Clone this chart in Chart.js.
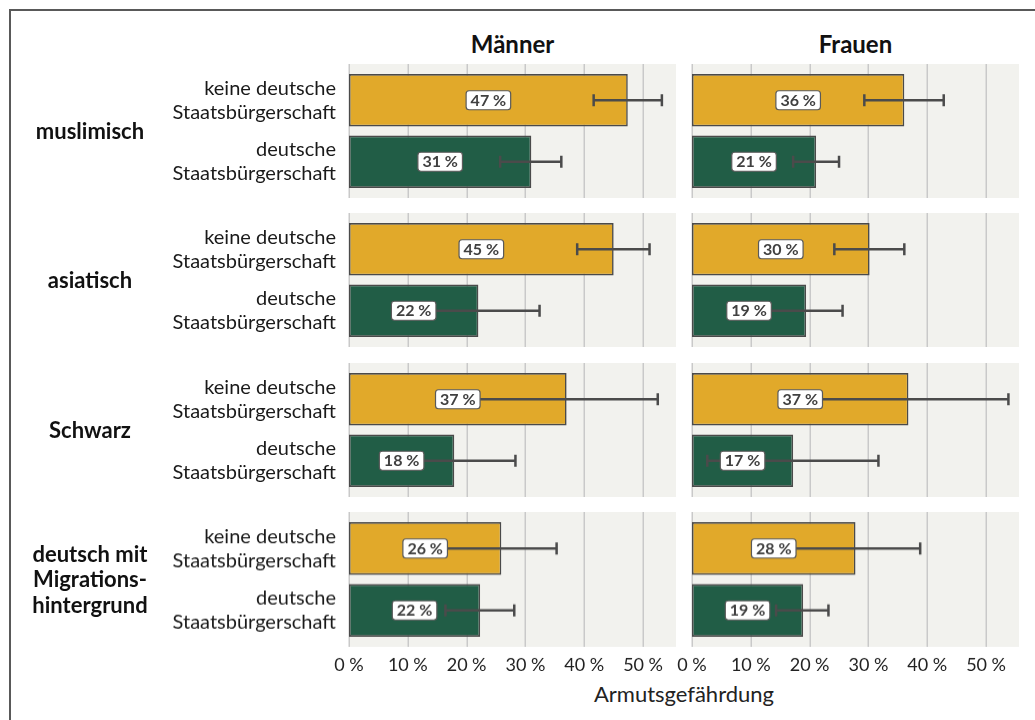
<!DOCTYPE html>
<html lang="de">
<head>
<meta charset="utf-8">
<script src="https://cdn.jsdelivr.net/npm/chart.js@4.4.1/dist/chart.umd.min.js"></script>
<style>
  html, body { margin:0; padding:0; background:#fff; width:1035px; height:720px; overflow:hidden; font-family:'Lato', sans-serif; }
  #frame { position:absolute; left:9px; top:9px; width:1060px; height:760px; border:2px solid #595959; box-sizing:border-box; }
  .box { position:absolute; }
  .head { position:absolute; top:29px; font-weight:bold; font-size:24px; color:#111; text-align:center; line-height:30px; }
  .group { position:absolute; left:15px; width:150px; display:flex; align-items:center; justify-content:center; text-align:center; font-weight:bold; font-size:22px; line-height:25.5px; color:#111; }
  #xtitle { position:absolute; left:349px; width:670px; top:680px; text-align:center; font-size:22px; line-height:28px; color:#222; }
</style>
</head>
<body>
<div id="frame"></div>
<div class="head" style="left:349px;width:327px;">Männer</div>
<div class="head" style="left:692px;width:327px;">Frauen</div>
<div id="xtitle">Armutsgefährdung</div>
<script>
// ---- data ----
const groups = [['muslimisch'], ['asiatisch'], ['Schwarz'], ['deutsch mit', 'Migrations-', 'hintergrund']];
const citizenshipLabels = [['keine deutsche', 'Staatsbürgerschaft'], ['deutsche', 'Staatsbürgerschaft']];
const xTicks = [0, 10, 20, 30, 40, 50];

const menNonCitizen      = [47.4, 45.0, 37.0, 25.9];
const menNonCitizenLow   = [41.6, 38.8, 21.5, 16.5];
const menNonCitizenHigh  = [53.2, 51.1, 52.5, 35.3];
const menCitizen         = [31.0, 22.0, 17.9, 22.3];
const menCitizenLow      = [25.7, 11.6, 7.5, 16.4];
const menCitizenHigh     = [36.1, 32.4, 28.3, 28.1];

const womenNonCitizen     = [36.1, 30.2, 36.8, 27.8];
const womenNonCitizenLow  = [29.3, 24.2, 19.8, 16.8];
const womenNonCitizenHigh = [42.8, 36.1, 53.8, 38.8];
const womenCitizen        = [21.1, 19.4, 17.2, 18.9];
const womenCitizenLow     = [17.2, 13.2, 2.6, 14.3];
const womenCitizenHigh    = [25.0, 25.6, 31.7, 23.2];

// ---- styling ----
const ORANGE = '#E1A92A';
const GREEN = '#215D46';
const BORDER = '#4a4a4a';
const PANEL_BG = '#F2F2EE';
const GRID = '#C9C9C9';
const ERR = '#4b4b4b';
const PAD = 5.5;
const ROW_TOPS = [64, 213, 363, 512];
const ROW_H = 134;
const X_MAX = 55.6;

Chart.defaults.font.family = 'Lato, sans-serif';
Chart.defaults.color = '#1a1a1a';

const panelPlugin = {
  id: 'panel',
  beforeDraw(chart) {
    const { ctx, chartArea: a, scales: { x } } = chart;
    ctx.save();
    ctx.fillStyle = PANEL_BG;
    ctx.fillRect(a.left, a.top - PAD, a.right - a.left, a.bottom - a.top + 2 * PAD);
    ctx.strokeStyle = GRID;
    ctx.lineWidth = 1.5;
    xTicks.forEach(v => {
      const px = Math.round(x.getPixelForValue(v)) + 0.25;
      ctx.beginPath();
      ctx.moveTo(px, a.top - PAD);
      ctx.lineTo(px, a.bottom + PAD);
      ctx.stroke();
    });
    ctx.restore();
  },
  afterDatasetsDraw(chart) {
    const { ctx, scales: { x } } = chart;
    const ds = chart.data.datasets[0];
    const meta = chart.getDatasetMeta(0);
    ctx.save();
    // error bars
    meta.data.forEach((bar, i) => {
      const y = bar.y;
      const xl = x.getPixelForValue(ds.low[i]);
      const xh = x.getPixelForValue(ds.high[i]);
      ctx.strokeStyle = ERR;
      ctx.lineWidth = 2.5;
      ctx.beginPath();
      ctx.moveTo(xl, y); ctx.lineTo(xh, y);
      ctx.stroke();
      ctx.beginPath();
      ctx.moveTo(xl, y - 6); ctx.lineTo(xl, y + 6);
      ctx.moveTo(xh, y - 6); ctx.lineTo(xh, y + 6);
      ctx.stroke();
    });
    // value labels
    ctx.font = 'bold 16px Lato, sans-serif';
    ctx.textAlign = 'center';
    ctx.textBaseline = 'middle';
    meta.data.forEach((bar, i) => {
      const v = ds.data[i];
      const txt = Math.round(v) + ' %';
      const cx = x.getPixelForValue(v / 2);
      const cy = bar.y;
      const w = ctx.measureText(txt).width + 9;
      const h = 19;
      ctx.fillStyle = '#ffffff';
      ctx.strokeStyle = '#5a5a5a';
      ctx.lineWidth = 1.2;
      ctx.beginPath();
      ctx.roundRect(cx - w / 2, cy - h / 2, w, h, 3);
      ctx.fill();
      ctx.stroke();
      ctx.fillStyle = '#404040';
      ctx.fillText(txt, cx, cy + 0.5);
    });
    ctx.restore();
  }
};

function makePanel(col, row) {
  const isLeft = col === 0;
  const isBottom = row === 3;
  const values = isLeft ? [menNonCitizen[row], menCitizen[row]] : [womenNonCitizen[row], womenCitizen[row]];
  const lows = isLeft ? [menNonCitizenLow[row], menCitizenLow[row]] : [womenNonCitizenLow[row], womenCitizenLow[row]];
  const highs = isLeft ? [menNonCitizenHigh[row], menCitizenHigh[row]] : [womenNonCitizenHigh[row], womenCitizenHigh[row]];

  const div = document.createElement('div');
  div.className = 'box';
  const left = isLeft ? 120 : 672;
  const width = isLeft ? 556 : 357;
  const height = isBottom ? (ROW_H - PAD + 34) : ROW_H;
  div.style.left = left + 'px';
  div.style.top = ROW_TOPS[row] + 'px';
  div.style.width = width + 'px';
  div.style.height = height + 'px';
  const canvas = document.createElement('canvas');
  div.appendChild(canvas);
  document.body.appendChild(div);

  new Chart(canvas, {
    type: 'bar',
    data: {
      labels: citizenshipLabels,
      datasets: [{
        data: values,
        low: lows,
        high: highs,
        backgroundColor: [ORANGE, GREEN],
        borderColor: BORDER,
        borderWidth: 1.6,
        borderSkipped: false,
        categoryPercentage: 1,
        barPercentage: 0.85
      }]
    },
    options: {
      indexAxis: 'y',
      responsive: true,
      maintainAspectRatio: false,
      animation: false,
      layout: { padding: { top: PAD, bottom: isBottom ? 0 : PAD, left: isLeft ? 0 : 20, right: isLeft ? 0 : 10 } },
      plugins: { legend: { display: false }, tooltip: { enabled: false } },
      scales: {
        x: {
          type: 'linear',
          min: 0,
          max: X_MAX,
          display: isBottom,
          grid: { display: false, drawTicks: false },
          border: { display: false },
          afterBuildTicks(s) { s.ticks = xTicks.map(v => ({ value: v })); },
          afterFit(s) {
            if (isBottom) s.height = 34;
            s.paddingLeft = 0; s.paddingRight = 0;
          },
          ticks: {
            padding: 13,
            font: { size: 18 },
            color: '#222',
            callback: v => v + '\u202F%'
          }
        },
        y: {
          display: isLeft,
          grid: { display: false, drawTicks: false },
          border: { display: false },
          afterFit(s) {
            if (isLeft) s.width = 229;
            s.paddingTop = 0; s.paddingBottom = 0;
          },
          ticks: {
            padding: 13,
            font: { size: 20, lineHeight: 1.2 },
            color: '#1a1a1a'
          }
        }
      }
    },
    plugins: [panelPlugin]
  });
}

for (let r = 0; r < 4; r++) {
  makePanel(0, r);
  makePanel(1, r);
  const g = document.createElement('div');
  g.className = 'group';
  g.style.top = ROW_TOPS[r] + 'px';
  g.style.height = ROW_H + 'px';
  g.innerHTML = groups[r].join('<br>');
  document.body.appendChild(g);
}
</script>
</body>
</html>
